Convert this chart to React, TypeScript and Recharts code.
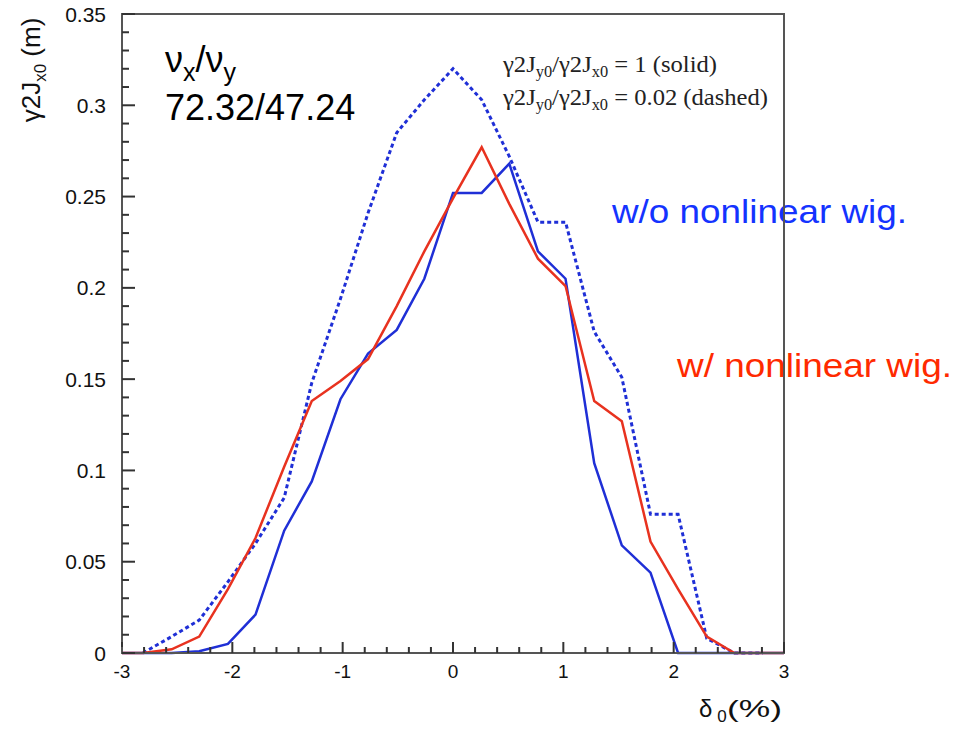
import { LineChart, Line, XAxis, YAxis, ReferenceArea, Customized } from "recharts";

// momentum deviation delta_0 (%)
const DELTA = [
  -3, -2.81, -2.55, -2.3, -2.04, -1.79, -1.53, -1.28, -1.02, -0.77, -0.51, -0.26, 0,
  0.26, 0.51, 0.77, 1.02, 1.28, 1.53, 1.79, 2.04, 2.3, 2.55, 2.81, 3,
];

// w/o nonlinear wiggler, gamma2Jy0/gamma2Jx0 = 1 (solid blue)
const WO_WIG_SOLID = [
  0, 0, 0, 0.001, 0.005, 0.021, 0.067, 0.094, 0.139, 0.164, 0.177, 0.205, 0.252,
  0.252, 0.268, 0.22, 0.205, 0.104, 0.059, 0.044, 0, 0, 0, 0, 0,
];

// w/o nonlinear wiggler, ratio = 0.02 (dashed blue)
const WO_WIG_DASHED = [
  null, 0, 0.009, 0.018, 0.039, 0.06, 0.085, 0.148, 0.194, 0.241, 0.285, 0.303, 0.32,
  0.303, 0.272, 0.236, 0.236, 0.176, 0.151, 0.076, 0.076, 0.008, 0, 0, null,
];

// w/ nonlinear wiggler, ratio = 1 (solid red)
const W_WIG_SOLID = [
  0, 0, 0.002, 0.009, 0.035, 0.063, 0.102, 0.138, 0.149, 0.161, 0.19, 0.22, 0.249,
  0.277, 0.246, 0.216, 0.201, 0.138, 0.127, 0.061, 0.035, 0.009, 0, 0, 0,
];

const X_TICKS = [-3, -2, -1, 0, 1, 2, 3];
const X_MINOR = [
  -2.8, -2.6, -2.4, -2.2, -1.8, -1.6, -1.4, -1.2, -0.8, -0.6, -0.4, -0.2,
  0.2, 0.4, 0.6, 0.8, 1.2, 1.4, 1.6, 1.8, 2.2, 2.4, 2.6, 2.8,
];
const Y_TICKS = [0, 0.05, 0.1, 0.15, 0.2, 0.25, 0.3, 0.35];
const Y_MINOR = [
  0.01, 0.02, 0.03, 0.04, 0.06, 0.07, 0.08, 0.09, 0.11, 0.12, 0.13, 0.14,
  0.16, 0.17, 0.18, 0.19, 0.21, 0.22, 0.23, 0.24, 0.26, 0.27, 0.28, 0.29,
  0.31, 0.32, 0.33, 0.34,
];

const data = DELTA.map((d, i) => ({
  d,
  woSolid: WO_WIG_SOLID[i],
  woDashed: WO_WIG_DASHED[i],
  wSolid: W_WIG_SOLID[i],
}));

const X_ALL = [...X_TICKS, ...X_MINOR].sort((a, b) => a - b);
const Y_ALL = [...Y_TICKS, ...Y_MINOR].sort((a, b) => a - b);

const SANS = "'Liberation Sans', Arial, Helvetica, sans-serif";
const SERIF = "'Liberation Serif', 'Times New Roman', serif";
const AXIS = "#555";
const TICK = "#333";
const BLUE = "#1f2fd6";
const RED = "#e8321f";

// the axis draws every tick inwards at minor length; majors get an extension and a label
function XTick(props: any) {
  const { x, y, payload } = props;
  if (!X_TICKS.includes(payload.value)) return <g />;
  return (
    <g>
      <line x1={x} x2={x} y1={y} y2={y - 5} stroke={TICK} strokeWidth={2} />
      <text x={x} y={y + 18} dy="0.71em" textAnchor="middle" fontFamily={SANS} fontSize={19} fill="#111">
        {payload.value}
      </text>
    </g>
  );
}

function YTick(props: any) {
  const { x, y, payload } = props;
  if (!Y_TICKS.includes(payload.value)) return <g />;
  return (
    <g>
      <line x1={x} x2={x + 6} y1={y} y2={y} stroke={TICK} strokeWidth={2} />
      <text x={x - 23} y={y} dy="0.36em" textAnchor="end" fontFamily={SANS} fontSize={21} fill="#111">
        {payload.value}
      </text>
    </g>
  );
}

function Annotations() {
  return (
    <g>
      <text x={165} y={72} fontFamily={SANS} fontSize={36} fill="#000">
        ν<tspan fontSize={25} dy={9}>x</tspan>
        <tspan fontSize={36} dy={-9}>/ν</tspan>
        <tspan fontSize={25} dy={9}>y</tspan>
      </text>
      <text x={165} y={120} fontFamily={SANS} fontSize={36} fill="#000">
        72.32/47.24
      </text>

      <text x={503} y={72} fontFamily={SERIF} fontSize={24} fill="#222" textLength={214} lengthAdjust="spacingAndGlyphs">
        γ2J<tspan fontSize={16} dy={5}>y0</tspan>
        <tspan dy={-5}>/γ2J</tspan>
        <tspan fontSize={16} dy={5}>x0</tspan>
        <tspan dy={-5}> = 1 (solid)</tspan>
      </text>
      <text x={503} y={105} fontFamily={SERIF} fontSize={24} fill="#222" textLength={265} lengthAdjust="spacingAndGlyphs">
        γ2J<tspan fontSize={16} dy={5}>y0</tspan>
        <tspan dy={-5}>/γ2J</tspan>
        <tspan fontSize={16} dy={5}>x0</tspan>
        <tspan dy={-5}> = 0.02 (dashed)</tspan>
      </text>

      <text x={612} y={223} fontFamily={SANS} fontSize={34} fill="#1433ff" textLength={295} lengthAdjust="spacingAndGlyphs">
        w/o nonlinear wig.
      </text>
      <text x={677} y={377} fontFamily={SANS} fontSize={34} fill="#ff2a00" textLength={275} lengthAdjust="spacingAndGlyphs">
        w/ nonlinear wig.
      </text>

      <text x={699} y={717} fontFamily={SANS} fontSize={24} fill="#111">
        δ<tspan fontSize={17} dx={5} dy={5}>0</tspan>
      </text>
      <text x={727} y={717} fontFamily={SANS} fontSize={24} fill="#111" textLength={55} lengthAdjust="spacingAndGlyphs">
        (%)
      </text>

      <text transform="translate(40,70) rotate(-90)" textAnchor="middle" fontFamily={SANS} fontSize={26} fill="#111">
        γ2J<tspan fontSize={17} dy={6}>x0</tspan>
        <tspan dy={-6}> (m)</tspan>
      </text>
    </g>
  );
}

export default function App() {
  return (
    <div style={{ position: "absolute", left: 0, top: 0, width: 972, height: 733 }}>
      <LineChart width={972} height={733} data={data} margin={{ top: 14, right: 188, bottom: 0, left: 0 }}>
        <XAxis
          dataKey="d"
          type="number"
          domain={[-3, 3]}
          ticks={X_ALL}
          interval={0}
          height={80}
          tickLine={{ stroke: TICK, strokeWidth: 2 }}
          tickSize={-6}
          tickMargin={0}
          axisLine={{ stroke: AXIS, strokeWidth: 2 }}
          tick={<XTick />}
        />
        <YAxis
          type="number"
          domain={[0, 0.35]}
          ticks={Y_ALL}
          interval={0}
          width={122}
          tickLine={{ stroke: TICK, strokeWidth: 2 }}
          tickSize={-7}
          tickMargin={0}
          axisLine={{ stroke: AXIS, strokeWidth: 2 }}
          tick={<YTick />}
        />
        <ReferenceArea x1={-3} x2={3} y1={0} y2={0.35} fill="none" stroke={AXIS} strokeWidth={2} ifOverflow="visible" />

        <Line dataKey="woDashed" stroke={BLUE} strokeWidth={3} strokeDasharray="4 3" dot={false} connectNulls={false} isAnimationActive={false} />
        <Line dataKey="woSolid" stroke={BLUE} strokeWidth={2.5} dot={false} isAnimationActive={false} />
        <Line dataKey="wSolid" stroke={RED} strokeWidth={2.5} dot={false} isAnimationActive={false} />

        <Customized component={Annotations} />
      </LineChart>
    </div>
  );
}
